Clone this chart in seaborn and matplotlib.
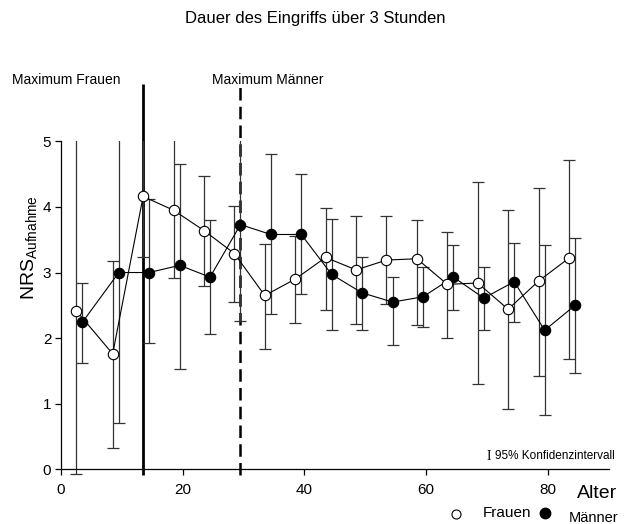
import matplotlib
matplotlib.use("Agg")
import matplotlib.pyplot as plt
from matplotlib.lines import Line2D
import seaborn as sns
import pandas as pd

# ---------------- data ----------------
alter_frauen = [2.5, 8.5, 13.5, 18.5, 23.5, 28.5, 33.5, 38.5, 43.5, 48.5,
                53.5, 58.5, 63.5, 68.5, 73.5, 78.5, 83.5]
nrs_frauen = [2.42, 1.76, 4.16, 3.95, 3.64, 3.29, 2.65, 2.90, 3.23, 3.04,
              3.19, 3.21, 2.82, 2.84, 2.44, 2.87, 3.22]
ci_lo_frauen = [-0.07, 0.33, 3.24, 2.92, 2.80, 2.55, 1.84, 2.23, 2.43, 2.21,
                2.52, 2.20, 2.00, 1.30, 0.92, 1.43, 1.68]
ci_hi_frauen = [5.3, 3.18, 5.3, 5.3, 4.47, 4.01, 3.43, 3.56, 3.99, 3.86,
                3.86, 3.80, 3.62, 4.38, 3.95, 4.29, 4.72]

alter_maenner = [3.5, 9.5, 14.5, 19.5, 24.5, 29.5, 34.5, 39.5, 44.5, 49.5,
                 54.5, 59.5, 64.5, 69.5, 74.5, 79.5, 84.5]
nrs_maenner = [2.24, 3.00, 3.00, 3.11, 2.93, 3.73, 3.58, 3.58, 2.97, 2.69,
               2.55, 2.63, 2.93, 2.61, 2.86, 2.12, 2.50]
ci_lo_maenner = [1.62, 0.71, 1.92, 1.53, 2.06, 2.26, 2.37, 2.67, 2.12, 2.13,
                 1.89, 2.17, 2.43, 2.12, 2.24, 0.83, 1.47]
ci_hi_maenner = [2.84, 5.3, 4.12, 4.66, 3.80, 5.3, 4.80, 4.50, 3.82, 3.24,
                 2.93, 3.08, 3.42, 3.09, 3.45, 3.42, 3.53]

max_frauen_alter = 13.5
max_maenner_alter = 29.5
max_line_range = (-0.09, 5.88)

x_ticks = [0, 20, 40, 60, 80]
y_ticks = [0, 1, 2, 3, 4, 5]

titel = "Dauer des Eingriffs über 3 Stunden"

# ---------------- style ----------------
sns.set_theme(style="white")
plt.rcParams["font.family"] = ["Liberation Sans", "DejaVu Sans"]
plt.rcParams["mathtext.fontset"] = "custom"
plt.rcParams["mathtext.rm"] = "Liberation Sans"
plt.rcParams["mathtext.it"] = "Liberation Sans"
plt.rcParams["text.color"] = "black"
plt.rcParams["axes.labelcolor"] = "black"

df_f = pd.DataFrame({"Alter": alter_frauen, "NRS": nrs_frauen,
                     "lo": ci_lo_frauen, "hi": ci_hi_frauen})
df_m = pd.DataFrame({"Alter": alter_maenner, "NRS": nrs_maenner,
                     "lo": ci_lo_maenner, "hi": ci_hi_maenner})

fig = plt.figure(figsize=(6.3, 5.24), dpi=100)
ax = fig.add_axes([0.0968, 0.0893, 0.8691, 0.6410])

ebar_color = "#333333"
for d in (df_f, df_m):
    ax.errorbar(d["Alter"], d["NRS"],
                yerr=[d["NRS"] - d["lo"], d["hi"] - d["NRS"]],
                fmt="none", ecolor=ebar_color, elinewidth=0.9,
                capsize=4, capthick=0.9, zorder=2)

# maximum lines
ax.vlines(max_frauen_alter, *max_line_range, colors="black", linewidth=2.0,
          clip_on=False, zorder=1)
ax.vlines(max_maenner_alter, *max_line_range, colors="black", linewidth=1.8,
          linestyles=(0, (5, 2.5)), clip_on=False, zorder=1)

sns.lineplot(data=df_m, x="Alter", y="NRS", ax=ax, color="black",
             linewidth=0.8, marker="o", markersize=7.5,
             markerfacecolor="black", markeredgecolor="black",
             markeredgewidth=0.8, zorder=4)
sns.lineplot(data=df_f, x="Alter", y="NRS", ax=ax, color="black",
             linewidth=0.8, marker="o", markersize=7.5,
             markerfacecolor="white", markeredgecolor="black",
             markeredgewidth=0.8, zorder=5)

ax.set_xlim(0, 90)
ax.set_ylim(-0.12, 5)
ax.set_xticks(x_ticks)
ax.set_yticks(y_ticks)
ax.tick_params(axis="both", direction="out", length=4, width=0.9,
               labelsize=11, color="black", labelcolor="black", pad=3,
               bottom=True, left=True)
ax.tick_params(axis="x", pad=6)
for side in ("top", "right"):
    ax.spines[side].set_visible(False)
ax.spines["bottom"].set_position(("data", 0))
ax.spines["left"].set_bounds(0, 5)
for side in ("left", "bottom"):
    ax.spines[side].set_color("black")
    ax.spines[side].set_linewidth(0.9)
ax.set_xlabel("")
ax.set_ylabel("")
ax.grid(False)

ax.text(-0.058, 0.684, r"NRS$_{\mathrm{Aufnahme}}$", transform=ax.transAxes,
        rotation=90, ha="center", va="center", fontsize=14)

# texts
fig.text(315 / 630, 1 - 19 / 524, titel, ha="center", va="center",
         fontsize=12)
fig.text(12 / 630, 1 - 80 / 524, "Maximum Frauen", ha="left", va="center",
         fontsize=10)
fig.text(212 / 630, 1 - 80 / 524, "Maximum Männer", ha="left", va="center",
         fontsize=10)
fig.text(577 / 630, 1 - 493 / 524, "Alter", ha="left", va="center",
         fontsize=14)
fig.text(487 / 630, 1 - 456 / 524, "I", ha="left", va="center",
         fontsize=10, family=["Liberation Serif", "DejaVu Serif"])
fig.text(495 / 630, 1 - 456 / 524, "95% Konfidenzintervall", ha="left",
         va="center", fontsize=8.5)

# legend
fig.add_artist(Line2D([456 / 630], [1 - 514 / 524], marker="o",
                      markersize=6.5, markerfacecolor="white",
                      markeredgecolor="black", markeredgewidth=0.8,
                      transform=fig.transFigure))
fig.text(483 / 630, 1 - 513 / 524, "Frauen", ha="left", va="center",
         fontsize=11)
fig.add_artist(Line2D([545 / 630], [1 - 513 / 524], marker="o",
                      markersize=7.5, markerfacecolor="black",
                      markeredgecolor="black",
                      transform=fig.transFigure))
fig.text(569 / 630, 1 - 518 / 524, "Männer", ha="left", va="center",
         fontsize=10.5)

fig.savefig("out.png", dpi=100)
